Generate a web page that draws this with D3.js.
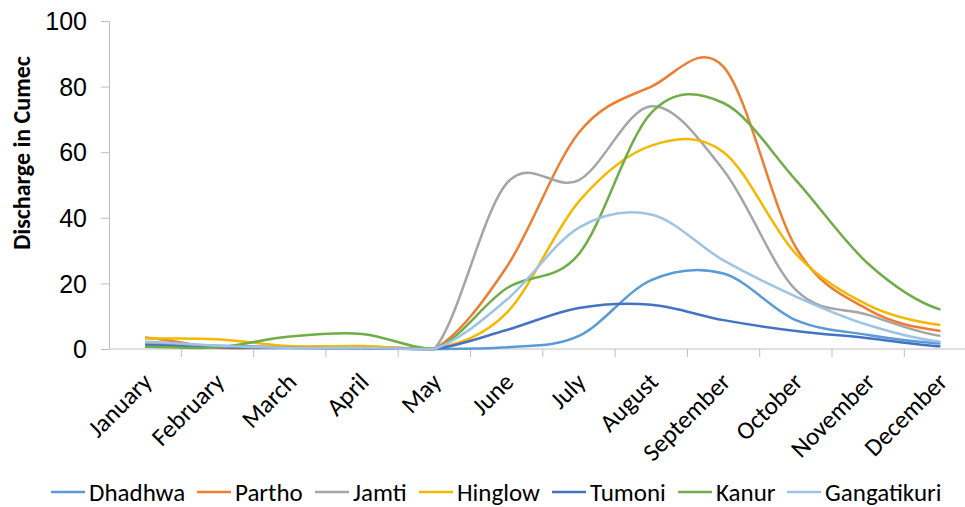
<!DOCTYPE html>
<html>
<head>
<meta charset="utf-8">
<script src="https://cdn.jsdelivr.net/npm/d3@7"></script>
<style>
  body { margin: 0; background: #fff; }
  svg { font-family: Carlito, Calibri, Lato, sans-serif; }
</style>
</head>
<body>
<svg id="chart" width="965" height="507"></svg>
<script>
// month categories and discharge series (cumec)
const months = ["January", "February", "March", "April", "May", "June",
  "July", "August", "September", "October", "November", "December"];

const dhadhwa     = [1.8, 1.0, 0.5, 0.3, 0, 0.5, 4, 21, 23, 8.8, 4.3, 1.7];
const partho      = [3.5, 0.4, 0.5, 0.8, 0, 25, 66, 80, 86, 31, 12, 5.5];
const jamti       = [1.5, 0.8, 0.4, 0.3, 0, 50.5, 51.5, 74, 54.5, 18, 10.4, 4];
const hinglow     = [3.2, 3.0, 0.9, 0.9, 0, 11, 45, 62, 60, 29, 13.4, 7.3];
const tumoni      = [1.2, 0.5, 0.3, 0.2, 0, 5.8, 12.5, 13.5, 8.8, 5.5, 3.3, 0.8];
const kanur       = [0.7, 0.5, 3.8, 4.6, 0, 18.5, 29, 72, 75, 51.5, 26, 12];
const gangatikuri = [2.2, 1.0, 0.3, 0.3, 0, 15, 37, 41, 27, 16, 7.3, 2.2];

const yTicks = [0, 20, 40, 60, 80, 100];

const series = [
  { name: "Dhadhwa", values: dhadhwa, color: "#5B9BD5" },
  { name: "Partho", values: partho, color: "#ED7D31" },
  { name: "Jamti", values: jamti, color: "#A5A5A5" },
  { name: "Hinglow", values: hinglow, color: "#F5B800" },
  { name: "Tumoni", values: tumoni, color: "#4472C4" },
  { name: "Kanur", values: kanur, color: "#70AD47" },
  { name: "Gangatikuri", values: gangatikuri, color: "#9DC3E6" }
];

const svg = d3.select("#chart");
const plotLeft = 109, plotTop = 21, plotBottom = 349;
const axisColor = "#BFBFBF";

// category bands, points sit in the middle of each band
const x = d3.scaleBand().domain(months).range([plotLeft, plotLeft + 12 * 72.3]);
const xc = (m) => x(m) + x.bandwidth() / 2;
const y = d3.scaleLinear().domain([0, 100]).range([plotBottom, plotTop]);

// y axis
const yAxis = svg.append("g")
  .attr("transform", `translate(${plotLeft},0)`)
  .call(d3.axisLeft(y).tickValues(yTicks).tickSize(8).tickPadding(14));
yAxis.select(".domain").attr("stroke", axisColor);
yAxis.selectAll(".tick line").attr("stroke", axisColor);
yAxis.selectAll(".tick text")
  .attr("fill", "#000")
  .style("font-size", "25px")
  .attr("dy", "0.35em");

// x axis line and ticks between categories
const xAxis = svg.append("g");
xAxis.append("line")
  .attr("x1", plotLeft).attr("x2", x.range()[1])
  .attr("y1", plotBottom).attr("y2", plotBottom)
  .attr("stroke", axisColor);
xAxis.selectAll("line.tick")
  .data(months.slice(1).concat(["end"]))
  .join("line")
  .attr("class", "tick")
  .attr("x1", (d) => d === "end" ? x.range()[1] : x(d))
  .attr("x2", (d) => d === "end" ? x.range()[1] : x(d))
  .attr("y1", plotBottom).attr("y2", plotBottom + 8)
  .attr("stroke", axisColor);

xAxis.selectAll("text")
  .data(months)
  .join("text")
  .attr("transform", (d) => `translate(${xc(d) - 4},${plotBottom + 22}) rotate(-45)`)
  .attr("text-anchor", "end")
  .attr("dy", "0.7em")
  .style("font-size", "25px")
  .text((d) => d);

// y axis title
svg.append("text")
  .attr("transform", `translate(30,153) rotate(-90)`)
  .attr("text-anchor", "middle")
  .style("font-size", "24px")
  .style("font-weight", "bold")
  .text("Discharge in Cumec");

// smoothed line like the spreadsheet's: catmull-rom bezier segments,
// control points kept from going under the zero line
function smoothPath(values) {
  const n = values.length;
  const w = x.step() / 3;
  const tan = values.map((v, i) => {
    const a = values[Math.max(i - 1, 0)], b = values[Math.min(i + 1, n - 1)];
    return (b - a) / 2;
  });
  const p = d3.path();
  p.moveTo(xc(months[0]), y(values[0]));
  for (let i = 0; i < n - 1; i++) {
    const c1 = Math.max(0, values[i] + tan[i] / 3);
    const c2 = Math.max(0, values[i + 1] - tan[i + 1] / 3);
    p.bezierCurveTo(
      xc(months[i]) + w, y(c1),
      xc(months[i + 1]) - w, y(c2),
      xc(months[i + 1]), y(values[i + 1]));
  }
  return p.toString();
}

svg.append("g")
  .selectAll("path")
  .data(series)
  .join("path")
  .attr("d", (d) => smoothPath(d.values))
  .attr("fill", "none")
  .attr("stroke", (d) => d.color)
  .attr("stroke-width", 2.5);

// legend
const legendX = [51, 197, 315, 419, 552, 678, 787];
const legend = svg.append("g").attr("transform", "translate(0,492)");
const item = legend.selectAll("g")
  .data(series)
  .join("g")
  .attr("transform", (d, i) => `translate(${legendX[i]},0)`);
item.append("line")
  .attr("x1", 0).attr("x2", 34)
  .attr("stroke", (d) => d.color)
  .attr("stroke-width", 2.5);
item.append("text")
  .attr("x", 38)
  .attr("dy", "0.35em")
  .style("font-size", "25px")
  .text((d) => d.name);
</script>
</body>
</html>
